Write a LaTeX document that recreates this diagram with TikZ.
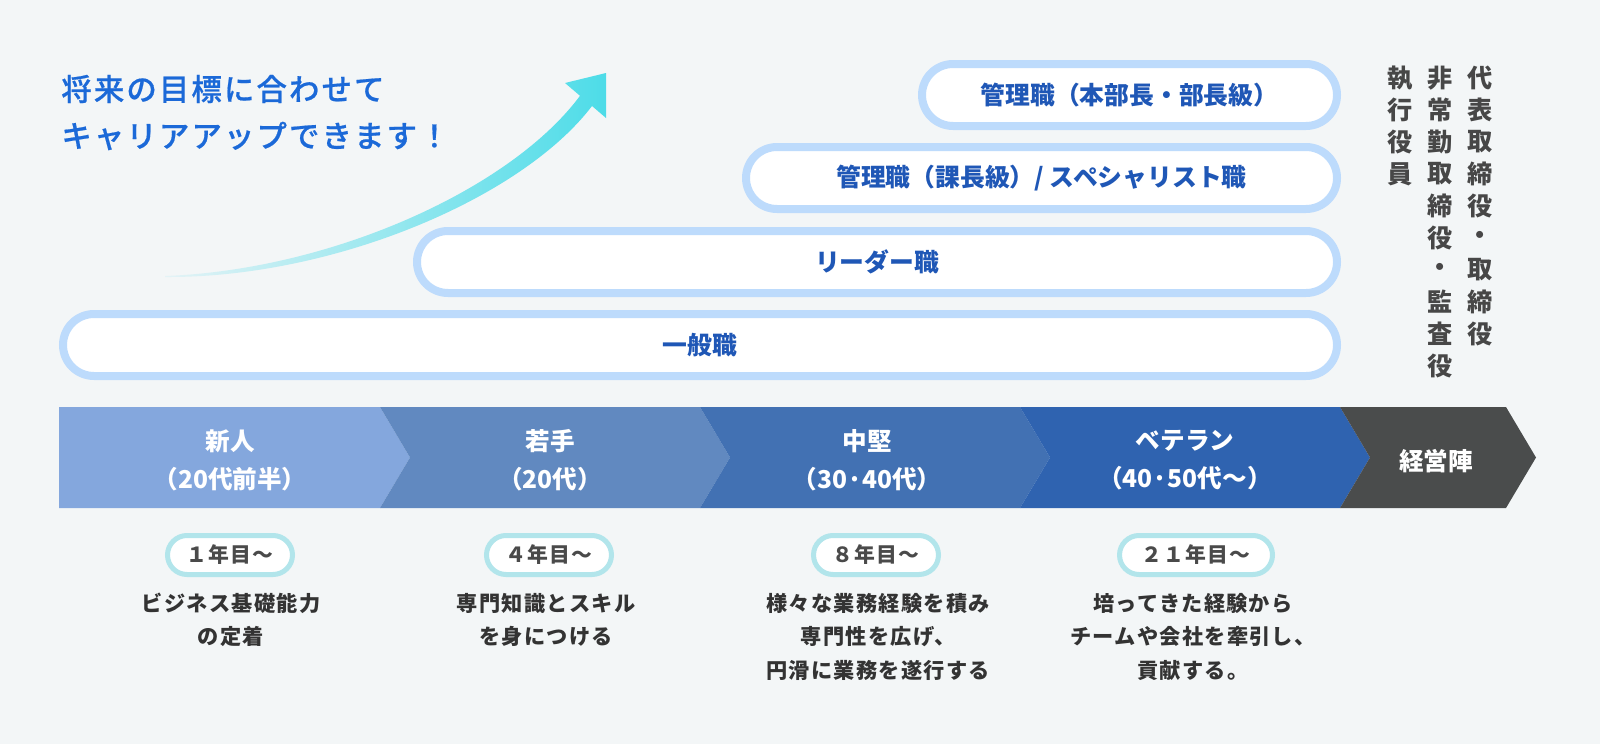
\documentclass[tikz,border=0pt]{standalone}
\usepackage{fontspec}
\setmainfont{Noto Sans CJK JP}
\IfFontExistsTF{Noto Sans CJK JP Medium}{\newfontfamily\medfont{Noto Sans CJK JP Medium}[FakeBold=0.6]}{\newfontfamily\medfont{Noto Sans CJK JP}[FakeBold=1.2]}
\definecolor{bg}{HTML}{F3F6F7}
\definecolor{headblue}{HTML}{1B69D8}
\definecolor{pillline}{HTML}{BDDBFC}
\definecolor{pilltext}{HTML}{1F57B6}
\definecolor{segA}{HTML}{84A7DD}
\definecolor{segB}{HTML}{6189C0}
\definecolor{segC}{HTML}{4271B3}
\definecolor{segD}{HTML}{2F63B0}
\definecolor{segE}{HTML}{4A4C4C}
\definecolor{badgeline}{HTML}{B2E5EB}
\definecolor{graytext}{HTML}{4A4A4A}
\definecolor{vtext}{HTML}{474747}
\definecolor{desctext}{HTML}{333333}
\definecolor{arrowA}{HTML}{E4F3F6}
\definecolor{arrowB}{HTML}{8CDFE8}
\definecolor{arrowC}{HTML}{4DDCE8}
\tikzset{
  headline/.style={anchor=west, inner sep=0, text=headblue, font=\medfont\fontsize{15.2pt}{17pt}\selectfont\addfontfeature{LetterSpace=7}},
  pill/.style={draw=pillline, line width=4pt, fill=white, rounded corners=15.5pt, inner sep=0, text=pilltext, font=\bfseries\fontsize{12.4pt}{14pt}\selectfont, minimum height=31pt},
  stage/.style={text=white, font=\bfseries\fontsize{12.3pt}{19pt}\selectfont, align=center, inner sep=0},
  badge/.style={draw=badgeline, line width=2.5pt, fill=white, rounded corners=9.75pt, minimum height=19.5pt, inner sep=0, text=graytext, font=\bfseries\fontsize{10.4pt}{11pt}\selectfont\addfontfeature{LetterSpace=6}},
  desc/.style={text=desctext, align=center, inner sep=0, font=\bfseries\fontsize{10.6pt}{16.75pt}\selectfont\addfontfeature{LetterSpace=6}},
  vchar/.style={text=vtext, inner sep=0, font=\bfseries\fontsize{12.6pt}{14pt}\selectfont}
}
\begin{document}
\begin{tikzpicture}[x=0.5pt,y=-0.5pt]
\useasboundingbox (0,0) rectangle (1600,744);
\fill[bg] (0,0) rectangle (1600,744);

% headline
\node[headline] (h1) at (61,89) {将来の目標に合わせて};
\node[headline] (h2) at (61,136) {キャリアアップできます！};

% rising arrow
\shade[left color=arrowA, middle color=arrowB, right color=arrowC]
  (165,276) .. controls (330,270) and (510,190) .. (580,95.8)
  -- (565,83) -- (606,73) -- (606,118) -- (592,106)
  .. controls (522,198) and (334,278) .. (165,277) -- cycle;

% career level pills
\node[pill, minimum width=207.5pt] (p1) at (1129.5,95) {管理職（本部長・部長級）};
\node[pill, minimum width=295.5pt] (p2) at (1041.5,178) {管理職（課長級）/ スペシャリスト職};
\node[pill, minimum width=460pt] (p3) at (877,262) {リーダー職};
\node[pill, minimum width=637pt] (p4) at (700,345) {一般職};

% vertical executive titles
\foreach \c [count=\i] in {代,表,取,締,役,・,取,締,役}
  \node[vchar] (va\i) at (1480,{78+32*(\i-1)}) {\c};
\foreach \c [count=\i] in {非,常,勤,取,締,役,・,監,査,役}
  \node[vchar] (vb\i) at (1440,{78+32*(\i-1)}) {\c};
\foreach \c [count=\i] in {執,行,役,員}
  \node[vchar] (vc\i) at (1400,{78+32*(\i-1)}) {\c};

% stage band
\fill[segA] (59,407) -- (380,407) -- (410,457.5) -- (380,508) -- (59,508) -- cycle;
\fill[segB] (380,407) -- (700,407) -- (730,457.5) -- (700,508) -- (380,508) -- (410,457.5) -- cycle;
\fill[segC] (700,407) -- (1020,407) -- (1050,457.5) -- (1020,508) -- (700,508) -- (730,457.5) -- cycle;
\fill[segD] (1020,407) -- (1340,407) -- (1370,457.5) -- (1340,508) -- (1020,508) -- (1050,457.5) -- cycle;
\fill[segE] (1340,407) -- (1506,407) -- (1536,457.5) -- (1506,508) -- (1340,508) -- (1370,457.5) -- cycle;

\node[stage] (s1) at (230,460) {新人\\（20代前半）};
\node[stage] (s2) at (550,460) {若手\\（20代）};
\node[stage] (s3) at (867,460) {中堅\\（30·40代）};
\node[stage] (s4) at (1185,460) {ベテラン\\（40·50代〜）};
\node[stage] (s5) at (1436,461) {経営陣};

% year badges
\node[badge, minimum width=62.5pt] (b1) at (230,555) {１年目〜};
\node[badge, minimum width=62.5pt] (b2) at (549,555) {４年目〜};
\node[badge, minimum width=62.5pt] (b3) at (876,555) {８年目〜};
\node[badge, minimum width=76.5pt] (b4) at (1196,555) {２１年目〜};

% descriptions
\node[desc] (d1) at (231,620) {ビジネス基礎能力\\の定着};
\node[desc] (d2) at (546,620) {専門知識とスキル\\を身につける};
\node[desc] (d3) at (878,636.5) {様々な業務経験を積み\\専門性を広げ、\\円滑に業務を遂行する};
\node[desc] (d4) at (1193,636.5) {培ってきた経験から\\チームや会社を牽引し、\\貢献する。};
\end{tikzpicture}
\end{document}
